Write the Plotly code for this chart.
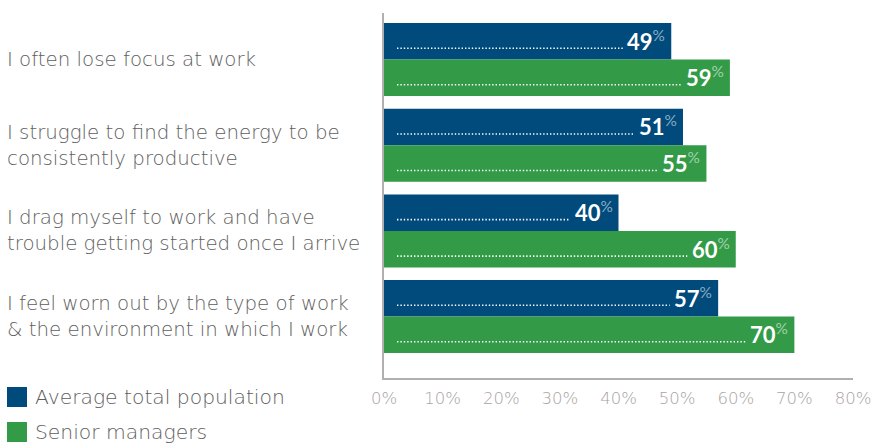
import plotly.graph_objects as go

categories = [
    "I often lose focus at work",
    "I struggle to find the energy to be<br>consistently productive",
    "I drag myself to work and have<br>trouble getting started once I arrive",
    "I feel worn out by the type of work<br>& the environment in which I work",
]
series_names = ["Average total population", "Senior managers"]
avg_total = [49, 51, 40, 57]
senior = [59, 55, 60, 70]
x_ticks = [0, 10, 20, 30, 40, 50, 60, 70, 80]
x_tick_text = [f"{t}%" for t in x_ticks]

BLUE = "#004a7c"
GREEN = "#339a48"
FONT = "DejaVu Sans"
W, H = 872, 445
ML, MR, MT, MB = 384, 19, 13, 67
plot_w = W - ML - MR
plot_h = H - MT - MB

fig = go.Figure()
for name, vals, col in [(series_names[0], avg_total, BLUE), (series_names[1], senior, GREEN)]:
    fig.add_trace(go.Bar(
        y=list(range(len(categories))), x=vals, orientation="h", name=name,
        marker=dict(color=col, line=dict(width=0)), showlegend=False,
        hoverinfo="skip",
    ))

bargap = 0.148
half = (1 - bargap) / 4  # offset of each bar centre from the category centre
px_per_unit = plot_w / 80.0
unit_px_y = plot_h / 4.26

annotations = []
shapes = []
for i, cat in enumerate(categories):
    annotations.append(dict(
        x=-(ML - 5) / plot_w, xref="paper", xanchor="left",
        y=i, yref="y", yanchor="middle", align="left",
        text=cat, showarrow=False,
        font=dict(family=FONT, size=19.8, color="#5e5e5e", weight=200),
    ))
    for vals, off in [(avg_total, -half), (senior, half)]:
        v = vals[i]
        yc = i + off
        annotations.append(dict(
            x=v, xref="x", xanchor="right", xshift=-4,
            y=yc, yref="y", yanchor="middle", yshift=1,
            text=f"<b>{v}</b><sup><span style='color:rgba(255,255,255,0.55)'>%</span></sup>",
            showarrow=False,
            font=dict(family="Lato", size=22, color="white"),
        ))
        shapes.append(dict(
            type="line", xref="x", yref="y",
            x0=13 / px_per_unit, x1=v - 48.5 / px_per_unit,
            y0=yc + 7 / unit_px_y, y1=yc + 7 / unit_px_y,
            line=dict(color="white", width=1.6, dash="1.4px,2px"),
        ))

# legend drawn as swatches with labels below the category column
for k, (name, col) in enumerate([(series_names[0], BLUE), (series_names[1], GREEN)]):
    yc = 397 + 35 * k
    shapes.append(dict(
        type="rect", xref="paper", yref="paper",
        x0=-(ML - 7) / plot_w, x1=-(ML - 27) / plot_w,
        y0=-((yc + 10) - (H - MB)) / plot_h,
        y1=-((yc - 10) - (H - MB)) / plot_h,
        fillcolor=col, line=dict(width=0),
    ))
    annotations.append(dict(
        x=-(ML - 33) / plot_w, xref="paper", xanchor="left",
        y=-(yc - (H - MB)) / plot_h, yref="paper", yanchor="middle",
        text=name, showarrow=False,
        font=dict(family=FONT, size=20.3, color="#5e5e5e", weight=200),
    ))

fig.update_layout(
    width=W, height=H,
    margin=dict(l=ML, r=MR, t=MT, b=MB, autoexpand=False),
    paper_bgcolor="white", plot_bgcolor="white",
    barmode="group", bargap=bargap, bargroupgap=0,
    xaxis=dict(
        range=[0, 80], tickvals=x_ticks, ticktext=x_tick_text,
        showgrid=False, zeroline=False, automargin=False,
        showline=True, linecolor="#b3afaf", linewidth=2,
        ticks="", ticklabelstandoff=4,
        tickfont=dict(family=FONT, size=16.5, color="#a8a3a3", weight=200),
    ),
    yaxis=dict(
        range=[3.717, -0.543], showticklabels=False, showgrid=False,
        zeroline=False, showline=True, linecolor="#b3afaf", linewidth=2,
        ticks="", automargin=False,
    ),
    annotations=annotations, shapes=shapes,
)

fig.write_html("out.html")
